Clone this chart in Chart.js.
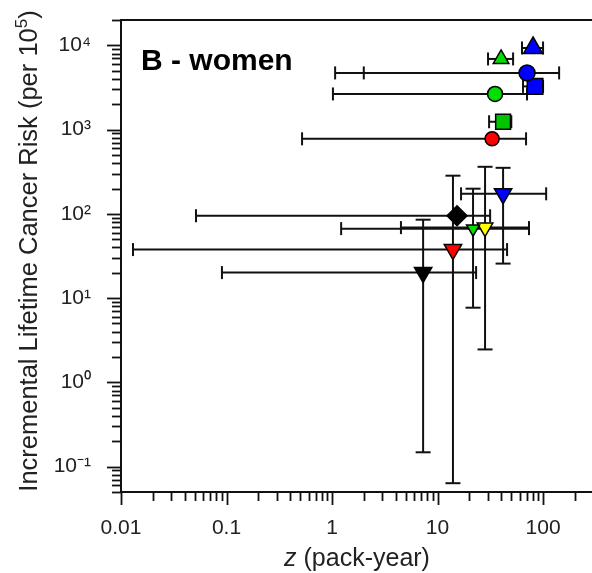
<!DOCTYPE html>
<html>
<head>
<meta charset="utf-8">
<script src="https://cdn.jsdelivr.net/npm/chart.js@4.4.0/dist/chart.umd.min.js"></script>
<style>
    html, body { margin: 0; padding: 0; background: #fff; overflow: hidden; }
    canvas { display: block; }
</style>
</head>
<body>
<canvas id="riskChart" width="592" height="573"></canvas>
<script>
// Panel B - women: risk per 10^5 vs. exposure z (pack-year), with intervals
const groups    = ['blueTriUp', 'greenTriUp', 'blueCircle', 'blueSquare', 'greenCircle', 'greenSquare', 'redCircle',
                   'blueTriDown', 'blackDiamond', 'greenTriDown', 'yellowTriDown', 'redTriDown', 'blackTriDown'];
const zValues   = [80.4, 40, 70.5, 84, 35.1, 41.8, 32.9, 41.8, 15.3, 21.7, 28.2, 14.0, 7.3];
const riskValues = [9310, 6900, 4710, 3260, 2650, 1240, 778, 173, 95, 66.8, 68.7, 37.7, 20.1];
const zLow      = [63.2, 30.1, 1.07, 64.6, 1.02, 30.8, 0.52, 16.7, 0.0514, 1.22, 4.5, 0.013, 0.0905];
const zHigh     = [100, 52, 142, 100, 70.5, 50, 69, 107, 31.5, 73.6, 73.6, 45.6, 23.2];
const zInnerCap = [null, null, 2.0, null, null, null, null, null, null, null, null, null, null];
const riskLow   = [null, null, null, null, null, null, null, 25.7, null, 7.7, 2.46, 0.0636, 0.148];
const riskHigh  = [null, null, null, null, null, null, null, 352, null, 199, 362, 284, 85.3];

const xMajor = [0.01, 0.1, 1, 10, 100];
const xTickLabels = ['0.01', '0.1', '1', '10', '100'];
const yMajor = [0.1, 1, 10, 100, 1000, 10000];
const yTickLabels = ['10\u207B\u00B9', '10\u2070', '10\u00B9', '10\u00B2', '10\u00B3', '10\u2074'];

// marker looks, one per group
const GREEN = '#00dd00';
const markerStyles = [
    { shape: 'triangle', rot: 0,   r: 11,  fill: '#0000ff' },
    { shape: 'triangle', rot: 0,   r: 9,   fill: GREEN },
    { shape: 'circle',   rot: 0,   r: 8,   fill: '#0000ff' },
    { shape: 'rect',     rot: 0,   r: 11,  fill: '#0000ff' },
    { shape: 'circle',   rot: 0,   r: 7.5, fill: GREEN },
    { shape: 'rect',     rot: 0,   r: 10.5, fill: '#00c400' },
    { shape: 'circle',   rot: 0,   r: 7,   fill: '#ff0000' },
    { shape: 'triangle', rot: 180, r: 10,  fill: '#0000ff' },
    { shape: 'rectRot',  rot: 0,   r: 10,  fill: '#000000' },
    { shape: 'triangle', rot: 180, r: 7.5, fill: GREEN },
    { shape: 'triangle', rot: 180, r: 9,   fill: '#ffff00' },
    { shape: 'triangle', rot: 180, r: 10,  fill: '#ff0000' },
    { shape: 'triangle', rot: 180, r: 10,  fill: '#000000' }
];

const FONT = "'Liberation Sans', Arial, Helvetica, sans-serif";
const INK = '#111';

function logTicks(min, max) {
    const out = [];
    for (let e = -3; e <= 5; e++) {
        for (let m = 1; m <= 9; m++) {
            const v = +(m * Math.pow(10, e)).toPrecision(3);
            if (v >= min * 0.999 && v <= max * 1.001) out.push({ value: v, major: m === 1 });
        }
    }
    return out;
}

function labelFor(majors, labels, v) {
    const i = majors.findIndex(m => Math.abs(m - v) / m < 1e-6);
    return i >= 0 ? labels[i] : '';
}

// error bars drawn under the markers
const errorBars = {
    id: 'errorBars',
    beforeDatasetsDraw(chart) {
        const { ctx, scales: { x, y } } = chart;
        const cap = 6.5;
        ctx.save();
        ctx.strokeStyle = INK;
        ctx.lineWidth = 2;
        const seg = (x1, y1, x2, y2) => { ctx.beginPath(); ctx.moveTo(x1, y1); ctx.lineTo(x2, y2); ctx.stroke(); };
        chart.data.datasets.forEach(ds => {
            ds.data.forEach(p => {
                const cx = x.getPixelForValue(p.x);
                const cy = y.getPixelForValue(p.y);
                if (p.xMin != null) {
                    const a = x.getPixelForValue(p.xMin), b = x.getPixelForValue(p.xMax);
                    seg(a, cy, b, cy);
                    seg(a, cy - cap, a, cy + cap);
                    seg(b, cy - cap, b, cy + cap);
                }
                if (p.xCap != null) {
                    const c = x.getPixelForValue(p.xCap);
                    seg(c, cy - cap, c, cy + cap);
                }
                if (p.yMin != null) {
                    const a = y.getPixelForValue(p.yMin), b = y.getPixelForValue(p.yMax);
                    seg(cx, a, cx, b);
                    seg(cx - cap - 1, a, cx + cap + 1, a);
                    seg(cx - cap - 1, b, cx + cap + 1, b);
                }
            });
        });
        ctx.restore();
    }
};

// top frame, outward tick marks and text (the panel is cut at the right edge)
const frameAndText = {
    id: 'frameAndText',
    afterDraw(chart) {
        const { ctx, chartArea: a, scales: { x, y } } = chart;
        ctx.save();
        ctx.strokeStyle = INK;
        ctx.lineWidth = 2;
        ctx.beginPath();
        ctx.moveTo(a.left, a.top); ctx.lineTo(chart.width, a.top);
        ctx.stroke();

        ctx.lineWidth = 1.8;
        x.ticks.forEach(t => {
            const px = Math.round(x.getPixelForValue(t.value)) + 0.5;
            const len = t.major ? 13 : 9;
            ctx.beginPath(); ctx.moveTo(px, a.bottom); ctx.lineTo(px, a.bottom + len); ctx.stroke();
        });
        y.ticks.forEach(t => {
            const py = Math.round(y.getPixelForValue(t.value)) + 0.5;
            const len = t.major ? 14 : 9;
            ctx.beginPath(); ctx.moveTo(a.left, py); ctx.lineTo(a.left - len, py); ctx.stroke();
        });

        // panel label
        ctx.fillStyle = '#000';
        ctx.textAlign = 'left';
        ctx.textBaseline = 'alphabetic';
        ctx.font = 'bold 30px ' + FONT;
        ctx.fillText('B - women', 141, 69.5);

        // x title: italic z + normal rest
        ctx.fillStyle = '#222';
        const f1 = 'italic 25px ' + FONT, f2 = '25px ' + FONT;
        ctx.font = f1; const w1 = ctx.measureText('z').width;
        ctx.font = f2; const w2 = ctx.measureText(' (pack-year)').width;
        const xc = 357;
        let sx = xc - (w1 + w2) / 2;
        ctx.font = f1; ctx.fillText('z', sx, 566);
        ctx.font = f2; ctx.fillText(' (pack-year)', sx + w1, 566);

        // y title with superscript 5
        ctx.translate(37, (a.top + a.bottom) / 2 - 5);
        ctx.rotate(-Math.PI / 2);
        const main = 'Incremental Lifetime Cancer Risk (per 10';
        const fm = '25.5px ' + FONT, fs = '17px ' + FONT;
        ctx.font = fm; const m1 = ctx.measureText(main).width, m3 = ctx.measureText(')').width;
        ctx.font = fs; const m2 = ctx.measureText('5').width;
        let tx = -(m1 + m2 + m3) / 2;
        ctx.font = fm; ctx.fillText(main, tx, 0);
        ctx.font = fs; ctx.fillText('5', tx + m1, -10);
        ctx.font = fm; ctx.fillText(')', tx + m1 + m2, 0);
        ctx.restore();
    }
};

const datasets = groups.map((g, i) => {
    const s = markerStyles[i];
    const pt = { x: zValues[i], y: riskValues[i] };
    if (zLow[i] != null) { pt.xMin = zLow[i]; pt.xMax = zHigh[i]; }
    if (zInnerCap[i] != null) pt.xCap = zInnerCap[i];
    if (riskLow[i] != null) { pt.yMin = riskLow[i]; pt.yMax = riskHigh[i]; }
    return {
        label: g,
        data: [pt],
        pointStyle: s.shape,
        rotation: s.rot,
        pointRadius: s.r,
        pointHoverRadius: s.r,
        backgroundColor: s.fill,
        borderColor: '#000',
        borderWidth: 1.5,
        showLine: false
    };
});

const tickFont = { family: FONT, size: 21 };

new Chart(document.getElementById('riskChart').getContext('2d'), {
    type: 'scatter',
    data: { datasets },
    options: {
        responsive: false,
        animation: false,
        devicePixelRatio: 1,
        layout: { autoPadding: false, padding: { top: 20, right: 0, bottom: 0, left: 0 } },
        plugins: { legend: { display: false }, tooltip: { enabled: false } },
        scales: {
            x: {
                type: 'logarithmic', position: 'bottom', min: 0.01, max: 291,
                afterBuildTicks: s => { s.ticks = logTicks(0.01, 291); },
                afterFit: s => { s.height = 81; s.paddingLeft = 0; s.paddingRight = 0; s.paddingTop = 0; s.paddingBottom = 0; },
                grid: { drawOnChartArea: false, drawTicks: false },
                border: { display: true, color: INK, width: 2 },
                ticks: { autoSkip: false, maxRotation: 0, padding: 24, color: '#222', font: tickFont,
                         callback: v => labelFor(xMajor, xTickLabels, v) }
            },
            y: {
                type: 'logarithmic', position: 'left', min: 0.05, max: 20000,
                afterBuildTicks: s => { s.ticks = logTicks(0.05, 20000); },
                afterFit: s => { s.width = 121; s.paddingLeft = 0; s.paddingRight = 0; s.paddingTop = 0; s.paddingBottom = 0; },
                grid: { drawOnChartArea: false, drawTicks: false },
                border: { display: true, color: INK, width: 2 },
                ticks: { autoSkip: false, padding: 30, color: '#222', font: tickFont,
                         callback: v => labelFor(yMajor, yTickLabels, v) }
            }
        }
    },
    plugins: [errorBars, frameAndText]
});
</script>
</body>
</html>
